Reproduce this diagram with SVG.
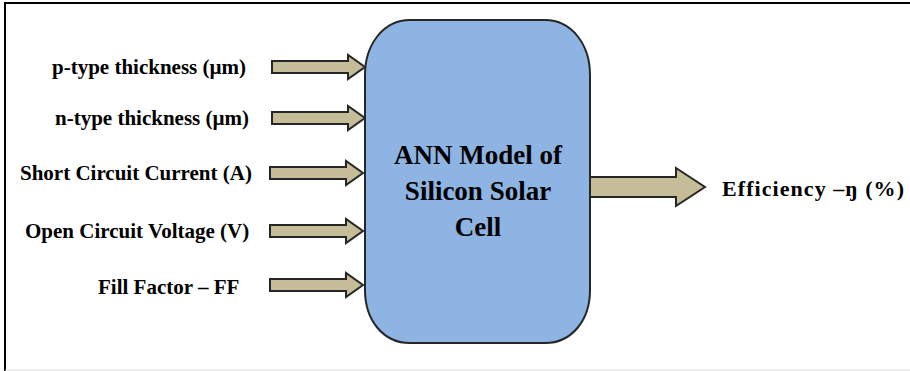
<svg xmlns="http://www.w3.org/2000/svg" width="910" height="371" viewBox="0 0 910 371">
<style>
.lbl{font-family:"Liberation Serif","Times New Roman",serif;font-weight:bold;font-size:21px;fill:#000}
.ctr{font-family:"Liberation Serif","Times New Roman",serif;font-weight:bold;font-size:27px;fill:#000}
.arr{fill:#c4bd97;stroke:#262626;stroke-width:2;stroke-linejoin:miter}
</style>
<defs>
<path id="inArrow" class="arr" d="M0,-6 H76 V-12 L93,0 L76,12 V6 H0 Z"/>
</defs>
<rect x="0" y="0" width="910" height="371" fill="#fff"/>
<path d="M5,371 V3 H910" fill="none" stroke="#000" stroke-width="2"/>
<line x1="5" y1="370" x2="910" y2="370" stroke="#ddd" stroke-width="1"/>
<g id="connectors">
<use href="#inArrow" x="272" y="67"/>
<use href="#inArrow" x="272" y="118"/>
<use href="#inArrow" x="270" y="173"/>
<use href="#inArrow" x="270" y="231"/>
<use href="#inArrow" x="270" y="285"/>
<path class="arr" d="M590,177 H676 V168 L705,187 L676,206 V197 H590 Z"/>
</g>
<g id="ann">
<path d="M410,20 H545 C572,20 590,45 590,75 V290 C590,320 572,343 545,343 H410 C383,343 365,320 365,290 V75 C365,45 383,20 410,20 Z" fill="#8eb4e3" stroke="#262626" stroke-width="2"/>
<text class="ctr" x="478" y="164" text-anchor="middle">ANN Model of</text>
<text class="ctr" x="478" y="200" text-anchor="middle">Silicon Solar</text>
<text class="ctr" x="478" y="236" text-anchor="middle">Cell</text>
</g>
<g id="in1"><text class="lbl" x="52" y="74">p-type thickness (µm)</text></g>
<g id="in2"><text class="lbl" x="55" y="125">n-type thickness (µm)</text></g>
<g id="in3"><text class="lbl" x="20" y="180">Short Circuit Current (A)</text></g>
<g id="in4"><text class="lbl" x="25" y="238">Open Circuit Voltage (V)</text></g>
<g id="in5"><text class="lbl" x="98" y="294">Fill Factor – FF</text></g>
<g id="out"><text class="lbl" x="722" y="196" style="font-size:22px" textLength="182" lengthAdjust="spacing">Efficiency –ŋ (%)</text></g>
</svg>
